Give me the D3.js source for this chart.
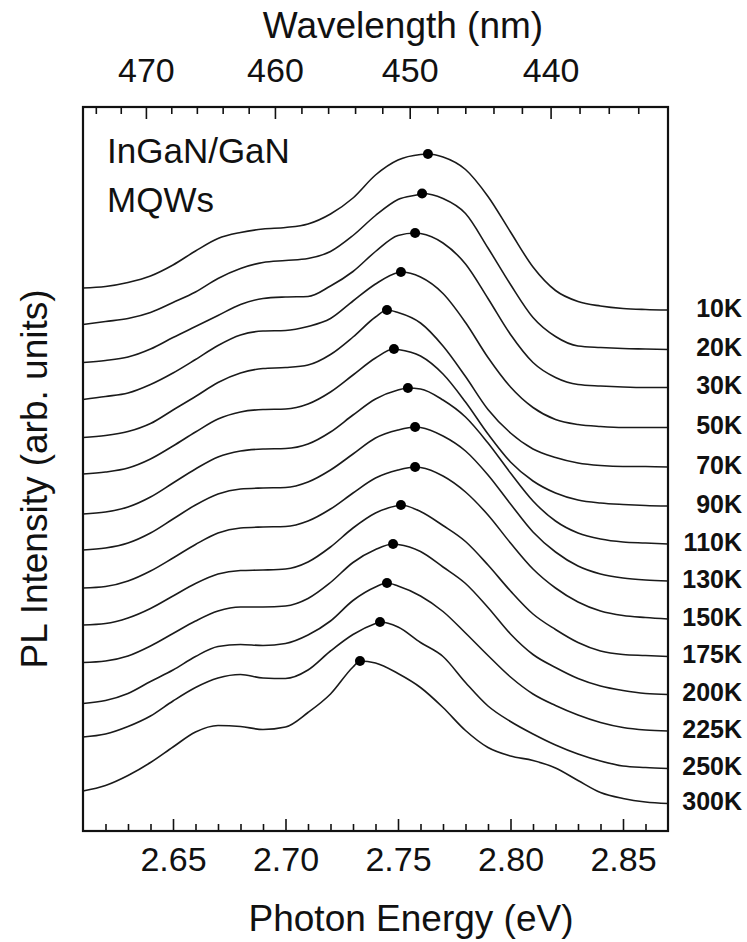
<!DOCTYPE html>
<html>
<head>
<meta charset="utf-8">
<script src="https://cdn.jsdelivr.net/npm/d3@7"></script>
<style>
  html, body { margin: 0; padding: 0; background: #fff; }
  svg { display: block; }
  text { font-family: "Liberation Sans", Arial, Helvetica, sans-serif; fill: #111; }
</style>
</head>
<body>
<svg id="chart" width="747" height="942"></svg>
<script>
// Photon energy grid (eV) on which every spectrum is sampled
const energyGrid = [2.61, 2.62, 2.63, 2.64, 2.65, 2.66, 2.67, 2.68, 2.69, 2.70, 2.71, 2.72, 2.73, 2.74,
                    2.75, 2.76, 2.77, 2.78, 2.79, 2.80, 2.81, 2.82, 2.83, 2.84, 2.85, 2.86, 2.87];

const temperatures = ["10K", "20K", "30K", "50K", "70K", "90K", "110K", "130K",
                      "150K", "175K", "200K", "225K", "250K", "300K"];

// Vertical stacking offset of each spectrum (arb. units)
const stackOffset = [9.88, 9.12, 8.36, 7.60, 6.84, 6.08, 5.32, 4.56, 3.80, 3.04, 2.28, 1.52, 0.76, 0];

// PL intensity (arb. units) of each spectrum on energyGrid
const pl10K  = [0.98, 1.01, 1.09, 1.22, 1.44, 1.72, 1.97, 2.09, 2.16, 2.19, 2.26, 2.46, 2.78, 3.24, 3.54, 3.65, 3.60, 3.35, 2.81, 2.10, 1.40, 0.93, 0.71, 0.62, 0.57, 0.55, 0.54];
const pl20K  = [1.01, 1.07, 1.13, 1.25, 1.45, 1.66, 1.93, 2.13, 2.25, 2.29, 2.33, 2.47, 2.79, 3.19, 3.51, 3.62, 3.53, 3.23, 2.54, 1.81, 1.15, 0.77, 0.58, 0.55, 0.53, 0.52, 0.51];
const pl30K  = [1.01, 1.05, 1.12, 1.28, 1.51, 1.73, 1.95, 2.17, 2.29, 2.32, 2.33, 2.54, 2.83, 3.23, 3.55, 3.59, 3.40, 2.98, 2.29, 1.57, 1.01, 0.71, 0.57, 0.54, 0.52, 0.51, 0.51];
const pl50K  = [1.03, 1.09, 1.16, 1.33, 1.56, 1.83, 2.11, 2.32, 2.40, 2.41, 2.49, 2.65, 3.00, 3.34, 3.57, 3.48, 3.15, 2.57, 1.87, 1.28, 0.87, 0.63, 0.53, 0.49, 0.47, 0.47, 0.47];
const pl70K  = [1.03, 1.07, 1.15, 1.31, 1.58, 1.85, 2.13, 2.32, 2.41, 2.43, 2.48, 2.69, 3.04, 3.44, 3.53, 3.32, 2.86, 2.25, 1.59, 1.12, 0.80, 0.63, 0.52, 0.47, 0.45, 0.45, 0.44];
const pl90K  = [1.06, 1.10, 1.18, 1.36, 1.62, 1.90, 2.16, 2.30, 2.35, 2.36, 2.46, 2.70, 3.04, 3.38, 3.55, 3.42, 3.06, 2.50, 1.86, 1.30, 0.92, 0.68, 0.54, 0.48, 0.45, 0.43, 0.42];
const pl110K = [1.02, 1.06, 1.16, 1.36, 1.64, 1.92, 2.16, 2.28, 2.32, 2.33, 2.42, 2.66, 3.00, 3.32, 3.50, 3.52, 3.30, 2.96, 2.44, 1.84, 1.28, 0.88, 0.64, 0.52, 0.46, 0.44, 0.42];
const pl130K = [1.06, 1.10, 1.20, 1.40, 1.68, 1.96, 2.18, 2.28, 2.30, 2.31, 2.42, 2.66, 2.98, 3.30, 3.46, 3.51, 3.34, 3.04, 2.56, 1.98, 1.42, 1.02, 0.74, 0.58, 0.50, 0.46, 0.44];
const pl150K = [1.06, 1.09, 1.20, 1.40, 1.66, 1.93, 2.16, 2.26, 2.28, 2.29, 2.40, 2.64, 2.96, 3.26, 3.42, 3.47, 3.30, 2.98, 2.52, 1.96, 1.44, 1.06, 0.78, 0.60, 0.51, 0.47, 0.44];
const pl175K = [1.08, 1.11, 1.22, 1.41, 1.66, 1.91, 2.10, 2.17, 2.18, 2.20, 2.34, 2.64, 3.02, 3.32, 3.47, 3.35, 3.07, 2.75, 2.28, 1.76, 1.30, 0.99, 0.73, 0.56, 0.49, 0.47, 0.45];
const pl200K = [1.09, 1.12, 1.22, 1.42, 1.67, 1.92, 2.12, 2.20, 2.20, 2.22, 2.37, 2.69, 3.09, 3.35, 3.45, 3.31, 3.00, 2.67, 2.19, 1.66, 1.25, 0.99, 0.77, 0.62, 0.53, 0.47, 0.45];
const pl225K = [1.03, 1.09, 1.23, 1.47, 1.70, 1.97, 2.17, 2.21, 2.19, 2.23, 2.40, 2.68, 3.09, 3.36, 3.38, 3.18, 2.87, 2.44, 1.99, 1.56, 1.22, 0.99, 0.80, 0.65, 0.55, 0.50, 0.48];
const pl250K = [1.12, 1.18, 1.33, 1.54, 1.84, 2.11, 2.30, 2.37, 2.30, 2.29, 2.46, 2.84, 3.17, 3.39, 3.32, 3.01, 2.73, 2.21, 1.74, 1.43, 1.18, 0.96, 0.78, 0.64, 0.54, 0.51, 0.49];
const pl300K = [0.80, 0.91, 1.11, 1.37, 1.68, 1.98, 2.11, 2.09, 2.03, 2.08, 2.37, 2.74, 3.28, 3.36, 3.15, 2.87, 2.47, 2.01, 1.67, 1.50, 1.41, 1.26, 1.01, 0.77, 0.65, 0.58, 0.55];

const spectra = [pl10K, pl20K, pl30K, pl50K, pl70K, pl90K, pl110K, pl130K,
                 pl150K, pl175K, pl200K, pl225K, pl250K, pl300K];

// Main PL peak of each spectrum (marked with a dot)
const peakEnergy    = [2.7633, 2.7607, 2.7576, 2.7513, 2.7451, 2.7482, 2.7544, 2.7576,
                       2.7576, 2.7513, 2.7478, 2.7451, 2.7420, 2.7331];
const peakIntensity = [3.66, 3.63, 3.60, 3.58, 3.58, 3.56, 3.54, 3.52,
                       3.48, 3.48, 3.46, 3.44, 3.42, 3.40];

// Axis ticks
const energyMajorTicks = [2.65, 2.70, 2.75, 2.80, 2.85];
const energyMinorTicks = [2.62, 2.63, 2.64, 2.66, 2.67, 2.68, 2.69, 2.71, 2.72, 2.73, 2.74,
                          2.76, 2.77, 2.78, 2.79, 2.81, 2.82, 2.83, 2.84, 2.86];
const wavelengthMajorTicks = [470, 460, 450, 440];
const wavelengthMinorTicks = [474, 472, 468, 466, 464, 462, 458, 456, 454, 452,
                              448, 446, 444, 442, 438, 436, 434];
const HC = 1239.84; // eV·nm

const svg = d3.select("#chart");
const frame = { left: 83, right: 668, top: 107, bottom: 831 };

const x = d3.scaleLinear().domain([2.61, 2.87]).range([frame.left, frame.right]);
const y = d3.scaleLinear().domain([0, 14.48]).range([frame.bottom, frame.top]);

svg.append("rect").attr("width", 747).attr("height", 942).attr("fill", "#fff");

// ---- spectra ----
const line = d3.line()
  .x(d => x(d[0]))
  .y(d => y(d[1]))
  .curve(d3.curveMonotoneX);

const plot = svg.append("g");
spectra.forEach((spec, i) => {
  const pts = energyGrid.map((e, k) => [e, stackOffset[i] + spec[k]]);
  pts.push([peakEnergy[i], stackOffset[i] + peakIntensity[i]]);
  pts.sort((a, b) => a[0] - b[0]);
  plot.append("path")
    .attr("d", line(pts))
    .attr("fill", "none")
    .attr("stroke", "#1a1a1a")
    .attr("stroke-width", 1.6);
});

plot.selectAll("circle.peak")
  .data(peakEnergy)
  .join("circle")
  .attr("class", "peak")
  .attr("cx", d => x(d))
  .attr("cy", (d, i) => y(stackOffset[i] + peakIntensity[i]))
  .attr("r", 5)
  .attr("fill", "#000");

// ---- temperature labels at the right end of each spectrum ----
svg.append("g").selectAll("text")
  .data(temperatures)
  .join("text")
  .attr("x", 742)
  .attr("y", (d, i) => y(stackOffset[i] + spectra[i][spectra[i].length - 1]) - 2)
  .attr("dy", "0.35em")
  .attr("text-anchor", "end")
  .attr("font-size", 25)
  .attr("font-weight", "bold")
  .text(d => d);

// ---- bottom energy axis (ticks point inward) ----
function styleAxis(g) {
  g.select(".domain").remove();
  g.selectAll(".tick line").attr("stroke", "#111").attr("stroke-width", 1.6);
  g.selectAll(".tick text").attr("font-size", 34).attr("fill", "#111")
    .attr("font-family", "'Liberation Sans', Arial, Helvetica, sans-serif");
}

svg.append("g")
  .attr("transform", `translate(0,${frame.bottom})`)
  .call(d3.axisBottom(x).tickValues(energyMinorTicks).tickSizeInner(-7).tickSizeOuter(0).tickFormat(""))
  .call(styleAxis);

svg.append("g")
  .attr("transform", `translate(0,${frame.bottom})`)
  .call(d3.axisBottom(x).tickValues(energyMajorTicks).tickSizeInner(-12).tickSizeOuter(0)
        .tickPadding(16).tickFormat(d3.format(".2f")))
  .call(styleAxis);

// ---- top wavelength axis ----
svg.append("g")
  .attr("transform", `translate(0,${frame.top})`)
  .call(d3.axisTop(x).tickValues(wavelengthMinorTicks.map(w => HC / w))
        .tickSizeInner(-7).tickSizeOuter(0).tickFormat(""))
  .call(styleAxis);

svg.append("g")
  .attr("transform", `translate(0,${frame.top})`)
  .call(d3.axisTop(x).tickValues(wavelengthMajorTicks.map(w => HC / w))
        .tickSizeInner(-12).tickSizeOuter(0).tickPadding(25)
        .tickFormat(e => String(Math.round(HC / e))))
  .call(styleAxis);

// ---- frame ----
svg.append("rect")
  .attr("x", frame.left).attr("y", frame.top)
  .attr("width", frame.right - frame.left).attr("height", frame.bottom - frame.top)
  .attr("fill", "none").attr("stroke", "#111").attr("stroke-width", 2.2);

// ---- titles ----
svg.append("text")
  .attr("x", 403).attr("y", 38)
  .attr("text-anchor", "middle").attr("font-size", 37)
  .text("Wavelength (nm)");

svg.append("text")
  .attr("x", 411).attr("y", 931)
  .attr("text-anchor", "middle").attr("font-size", 37)
  .text("Photon Energy (eV)");

svg.append("text")
  .attr("transform", "translate(47,479) rotate(-90)")
  .attr("text-anchor", "middle").attr("font-size", 37)
  .text("PL Intensity (arb. units)");

svg.append("text").attr("x", 107).attr("y", 163).attr("font-size", 35).text("InGaN/GaN");
svg.append("text").attr("x", 107).attr("y", 212).attr("font-size", 35).text("MQWs");
</script>
</body>
</html>
